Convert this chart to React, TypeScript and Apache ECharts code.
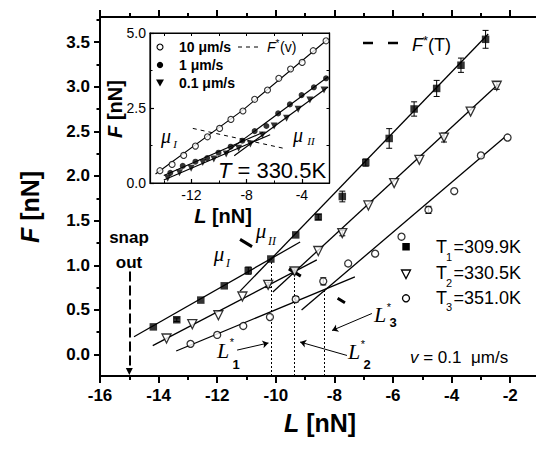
import React, { useEffect, useRef } from "react";
import * as echarts from "echarts";

const SANS = '"Liberation Sans", Arial, sans-serif';
const SERIF = '"Liberation Serif", "Times New Roman", serif';

// ---------- main panel (v = 0.1 um/s) : L [nN] vs F [nN] ----------
const t1L = [-14.18, -13.38, -12.56, -11.76, -10.94, -10.17, -9.32, -8.55, -7.73, -6.93, -6.13, -5.28, -4.51, -3.68, -2.84];
const t1F = [0.31, 0.39, 0.61, 0.77, 0.94, 1.07, 1.34, 1.54, 1.77, 2.15, 2.42, 2.75, 2.98, 3.24, 3.53];
const t1Err = [0, 0.02, 0, 0, 0.04, 0, 0, 0.03, 0.06, 0.04, 0.11, 0.08, 0.09, 0.08, 0.1];

const t2L = [-13.73, -12.85, -11.96, -11.14, -10.26, -9.36, -8.55, -7.73, -6.84, -5.96, -5.1, -4.26, -3.35, -2.46];
const t2F = [0.18, 0.34, 0.44, 0.65, 0.78, 0.93, 1.16, 1.36, 1.67, 1.92, 2.18, 2.43, 2.72, 3.01];
const t2Err = [0, 0, 0, 0, 0.03, 0.03, 0, 0.03, 0, 0, 0, 0.05, 0, 0.04];

const t3L = [-12.91, -12.0, -11.11, -10.2, -9.32, -8.38, -7.53, -6.61, -5.71, -4.79, -3.91, -3.0, -2.09];
const t3F = [0.12, 0.22, 0.32, 0.42, 0.62, 0.82, 1.02, 1.13, 1.32, 1.62, 1.83, 2.23, 2.43];
const t3Err = [0, 0, 0, 0, 0.03, 0.04, 0, 0, 0, 0.04, 0, 0, 0];

// linear fits (mu_I and mu_II) for each temperature
const mainFitSegments = [
  [[-14.84, 0.2], [-9.17, 1.26]],
  [[-11.22, 0.71], [-2.75, 3.59]],
  [[-14.2, 0.1], [-8.6, 1.06]],
  [[-10.1, 0.7], [-2.4, 3.03]],
  [[-13.4, 0.04], [-7.3, 0.87]],
  [[-9.12, 0.5], [-2.2, 2.43]],
];
// crossing points L*, F*
const lStar = [-10.17, -9.36, -8.34];
const fStar = [1.075, 0.925, 0.725];
// F*(T) dashed line
const fStarTLine = [[-11.22, 1.29], [-7.64, 0.58]];
// annotation arrows pointing to the L* lines
const lStarArrows = [
  [[-11.32, 0.05], [-10.25, 0.13]],
  [[-7.57, -0.01], [-9.17, 0.14]],
  [[-6.72, 0.46], [-8.08, 0.27]],
];
const snapOutL = -15.0;
const snapOutF = [0.93, -0.19];

const xMajor = [-16, -14, -12, -10, -8, -6, -4, -2];
const xMinor = [-15, -13, -11, -9, -7, -5, -3];
const yMajor = [0, 0.5, 1, 1.5, 2, 2.5, 3, 3.5];
const yMinor = [0.25, 0.75, 1.25, 1.75, 2.25, 2.75, 3.25, 3.75];
const yMin = -0.24;
const yMax = 3.78;

// ---------- inset (T = 330.5K) ----------
const v10L = [-14.28, -13.4, -12.56, -11.71, -10.84, -9.96, -9.14, -8.27, -7.42, -6.49, -5.67, -4.82, -3.98, -3.18, -2.25];
const v10F = [0.41, 0.62, 0.92, 1.23, 1.54, 1.82, 2.12, 2.4, 2.79, 3.1, 3.49, 3.8, 4.02, 4.41, 4.74];
const v1L = [-13.53, -12.63, -11.71, -10.86, -10.04, -9.16, -8.31, -7.42, -6.57, -5.72, -4.87, -4.02, -3.13, -2.25];
const v1F = [0.34, 0.57, 0.71, 0.83, 1.01, 1.21, 1.41, 1.73, 1.9, 2.32, 2.62, 2.93, 3.19, 3.49];
const v01L = [-13.72, -12.87, -12.02, -11.18, -10.38, -9.48, -8.58, -7.73, -6.86, -6.01, -5.11, -4.27, -3.42, -2.4];
const v01F = [0.16, 0.34, 0.49, 0.68, 0.8, 0.97, 1.16, 1.3, 1.6, 1.9, 2.16, 2.46, 2.77, 3.1];

const insetFit10 = [[-14.6, 0.3], [-8.3, 2.42], [-2.1, 4.8]];
const insetFitSegments = [
  [[-14.0, 0.25], [-6.8, 1.69]],
  [[-9.6, 0.99], [-2.1, 3.54]],
  [[-14.0, 0.1], [-6.3, 1.61]],
  [[-8.9, 0.91], [-2.1, 3.2]],
];
const fStarVLine = [[-11.9, 1.82], [-5.36, 1.16]];

const insetXLabels = [-12, -8, -4];
const insetXMinor = [-14, -10, -6];
const insetYLabels = [0, 2.5, 5];
const insetYMinor = [1.25, 3.75];

const pts = (L: number[], F: number[]) => L.map((x, i) => [x, F[i]]);

function errSeries(L: number[], F: number[], E: number[]) {
  return {
    type: "custom",
    xAxisIndex: 0,
    yAxisIndex: 0,
    z: 1,
    silent: true,
    data: L.map((x, i) => [x, F[i], E[i]]).filter((d) => d[2] > 0),
    encode: { x: 0, y: 1 },
    renderItem: (_p: any, api: any) => {
      const x = api.value(0);
      const y = api.value(1);
      const e = api.value(2);
      const a = api.coord([x, y + e]);
      const b = api.coord([x, y - e]);
      const w = 3;
      const st = { stroke: "#000", lineWidth: 1 };
      return {
        type: "group",
        children: [
          { type: "line", shape: { x1: a[0], y1: a[1], x2: b[0], y2: b[1] }, style: st },
          { type: "line", shape: { x1: a[0] - w, y1: a[1], x2: a[0] + w, y2: a[1] }, style: st },
          { type: "line", shape: { x1: b[0] - w, y1: b[1], x2: b[0] + w, y2: b[1] }, style: st },
        ],
      };
    },
  };
}

function linesSeries(segs: number[][][], xi: number, yi: number, lineStyle: any, extra: any = {}) {
  return {
    type: "lines",
    coordinateSystem: "cartesian2d",
    xAxisIndex: xi,
    yAxisIndex: yi,
    silent: true,
    z: 2,
    data: segs.map((s) => ({ coords: s })),
    lineStyle: { color: "#000", opacity: 1, ...lineStyle },
    ...extra,
  };
}

function txt(x: number, y: number, text: string, font: string, align = "center") {
  return {
    type: "text",
    x,
    y,
    silent: true,
    z: 10,
    style: { text, font, fill: "#000", align, verticalAlign: "middle" },
  };
}

function buildOption() {
  const tickLine = { color: "#000", width: 2 };
  const mainAxisLabel = { color: "#000", fontSize: 17, fontWeight: "bold", fontFamily: SANS };
  const insetLabel = { color: "#000", fontSize: 14, fontFamily: SANS };

  const xAxis = [
    {
      type: "value", gridIndex: 0, position: "bottom", min: -16, max: -1,
      axisLine: { onZero: false, lineStyle: tickLine },
      axisTick: { show: true, inside: false, length: 7, customValues: xMajor, lineStyle: tickLine },
      axisLabel: { ...mainAxisLabel, customValues: xMajor, margin: 11, formatter: (v: number) => String(v) },
      splitLine: { show: false },
    },
    {
      type: "value", gridIndex: 0, position: "bottom", min: -16, max: -1,
      axisLine: { show: false, onZero: false },
      axisTick: { show: true, inside: false, length: 4, customValues: xMinor, lineStyle: tickLine },
      axisLabel: { show: false },
      splitLine: { show: false },
    },
    {
      type: "value", gridIndex: 0, position: "top", min: -16, max: -1,
      axisLine: { onZero: false, lineStyle: tickLine },
      axisTick: { show: true, inside: false, length: 7, customValues: xMajor, lineStyle: tickLine },
      axisLabel: { show: false },
      splitLine: { show: false },
    },
    {
      type: "value", gridIndex: 0, position: "top", min: -16, max: -1,
      axisLine: { show: false, onZero: false },
      axisTick: { show: true, inside: false, length: 4, customValues: xMinor, lineStyle: tickLine },
      axisLabel: { show: false },
      splitLine: { show: false },
    },
    {
      type: "value", gridIndex: 1, position: "bottom", min: -15, max: -2,
      axisLine: { onZero: false, lineStyle: { color: "#000", width: 1.2 } },
      axisTick: { show: true, inside: true, length: 4, customValues: insetXLabels, lineStyle: { color: "#000", width: 1.2 } },
      axisLabel: { ...insetLabel, customValues: insetXLabels, margin: 5, formatter: (v: number) => String(v) },
      splitLine: { show: false },
    },
    {
      type: "value", gridIndex: 1, position: "bottom", min: -15, max: -2,
      axisLine: { show: false, onZero: false },
      axisTick: { show: true, inside: true, length: 2.5, customValues: insetXMinor, lineStyle: { color: "#000", width: 1 } },
      axisLabel: { show: false },
      splitLine: { show: false },
    },
    {
      type: "value", gridIndex: 1, position: "top", min: -15, max: -2,
      axisLine: { onZero: false, lineStyle: { color: "#000", width: 1.2 } },
      axisTick: { show: true, inside: true, length: 3, customValues: [...insetXLabels, ...insetXMinor], lineStyle: { color: "#000", width: 1 } },
      axisLabel: { show: false },
      splitLine: { show: false },
    },
  ];

  const yAxis = [
    {
      type: "value", gridIndex: 0, position: "left", min: yMin, max: yMax,
      axisLine: { onZero: false, lineStyle: tickLine },
      axisTick: { show: true, inside: false, length: 6, customValues: yMajor, lineStyle: tickLine },
      axisLabel: { ...mainAxisLabel, customValues: yMajor, margin: 10, formatter: (v: number) => v.toFixed(1) },
      splitLine: { show: false },
    },
    {
      type: "value", gridIndex: 0, position: "left", min: yMin, max: yMax,
      axisLine: { show: false, onZero: false },
      axisTick: { show: true, inside: false, length: 3.5, customValues: yMinor, lineStyle: tickLine },
      axisLabel: { show: false },
      splitLine: { show: false },
    },
    {
      type: "value", gridIndex: 1, position: "left", min: 0, max: 5,
      axisLine: { onZero: false, lineStyle: { color: "#000", width: 1.2 } },
      axisTick: { show: true, inside: true, length: 4, customValues: insetYLabels, lineStyle: { color: "#000", width: 1.2 } },
      axisLabel: { ...insetLabel, customValues: insetYLabels, margin: 4, formatter: (v: number) => v.toFixed(1) },
      splitLine: { show: false },
    },
    {
      type: "value", gridIndex: 1, position: "left", min: 0, max: 5,
      axisLine: { show: false, onZero: false },
      axisTick: { show: true, inside: true, length: 2.5, customValues: insetYMinor, lineStyle: { color: "#000", width: 1 } },
      axisLabel: { show: false },
      splitLine: { show: false },
    },
    {
      type: "value", gridIndex: 1, position: "right", min: 0, max: 5,
      axisLine: { onZero: false, lineStyle: { color: "#000", width: 1.2 } },
      axisTick: { show: true, inside: true, length: 3, customValues: [...insetYMinor, 2.5], lineStyle: { color: "#000", width: 1 } },
      axisLabel: { show: false },
      splitLine: { show: false },
    },
  ];

  const openStyle = { color: "#fff", borderColor: "#000", borderWidth: 1.3 };

  const series: any[] = [
    linesSeries(mainFitSegments as any, 0, 0, { width: 1.3, type: "solid" }),
    linesSeries([fStarTLine] as any, 0, 0, { width: 3, type: [14, 43] }),
    linesSeries(lStar.map((l, i) => [[l, yMin], [l, fStar[i]]]) as any, 0, 0, { width: 1, type: [2, 2] }),
    linesSeries(lStarArrows as any, 0, 0, { width: 1 }, { symbol: ["none", "arrow"], symbolSize: 6 }),
    linesSeries([[[snapOutL, snapOutF[0]], [snapOutL, snapOutF[1]]]] as any, 0, 0, { width: 2, type: [10, 4] }, { symbol: ["none", "triangle"], symbolSize: [6, 7] }),
    errSeries(t1L, t1F, t1Err),
    errSeries(t2L, t2F, t2Err),
    errSeries(t3L, t3F, t3Err),
    {
      type: "scatter", xAxisIndex: 0, yAxisIndex: 0, z: 4, silent: true,
      symbol: "rect", symbolSize: 7.5, itemStyle: { color: "#000" }, data: pts(t1L, t1F),
    },
    {
      type: "scatter", xAxisIndex: 0, yAxisIndex: 0, z: 4, silent: true,
      symbol: "triangle", symbolRotate: 180, symbolSize: 9, itemStyle: openStyle, data: pts(t2L, t2F),
    },
    {
      type: "scatter", xAxisIndex: 0, yAxisIndex: 0, z: 4, silent: true,
      symbol: "circle", symbolSize: 7, itemStyle: openStyle, data: pts(t3L, t3F),
    },
    {
      type: "line", xAxisIndex: 4, yAxisIndex: 2, z: 5, silent: true, showSymbol: false, symbol: "none",
      lineStyle: { color: "#000", width: 1.1 }, data: insetFit10,
    },
    { ...linesSeries(insetFitSegments as any, 4, 2, { width: 1.1 }), z: 5 },
    { ...linesSeries([fStarVLine] as any, 4, 2, { width: 1, type: [4, 4] }), z: 5 },
    {
      type: "scatter", xAxisIndex: 4, yAxisIndex: 2, z: 6, silent: true,
      symbol: "circle", symbolSize: 6, itemStyle: { color: "#fff", borderColor: "#000", borderWidth: 1.1 }, data: pts(v10L, v10F),
    },
    {
      type: "scatter", xAxisIndex: 4, yAxisIndex: 2, z: 6, silent: true,
      symbol: "circle", symbolSize: 6, itemStyle: { color: "#000" }, data: pts(v1L, v1F),
    },
    {
      type: "scatter", xAxisIndex: 4, yAxisIndex: 2, z: 6, silent: true,
      symbol: "triangle", symbolRotate: 180, symbolSize: 7, itemStyle: { color: "#000" }, data: pts(v01L, v01F),
    },
  ];

  const b25 = `bold 25px ${SANS}`;
  const b20 = `bold 20px ${SANS}`;
  const graphic: any[] = [
    {
      type: "text", x: 30, y: 207, rotation: Math.PI / 2, silent: true, z: 10,
      style: {
        text: "{i|F} [nN]", font: b25, fill: "#000", align: "center", verticalAlign: "middle",
        rich: { i: { fontStyle: "italic", fontWeight: "bold", fontSize: 25, fontFamily: SANS, fill: "#000" } },
      },
    },
    {
      type: "text", x: 320, y: 423, silent: true, z: 10,
      style: {
        text: "{i|L} [nN]", font: b25, fill: "#000", align: "center", verticalAlign: "middle",
        rich: { i: { fontStyle: "italic", fontWeight: "bold", fontSize: 25, fontFamily: SANS, fill: "#000" } },
      },
    },
    { type: "line", silent: true, z: 10, shape: { x1: 363, y1: 43, x2: 373, y2: 43 }, style: { stroke: "#000", lineWidth: 2.5 } },
    { type: "line", silent: true, z: 10, shape: { x1: 388, y1: 43, x2: 398, y2: 43 }, style: { stroke: "#000", lineWidth: 2.5 } },
    txt(412, 45, "F", `italic 18px ${SANS}`, "left"),
    txt(423, 40, "*", `13px ${SANS}`, "left"),
    txt(428, 45, "(T)", `18px ${SANS}`, "left"),
    { type: "rect", silent: true, z: 10, shape: { x: 402.3, y: 243, width: 7.5, height: 7.5 }, style: { fill: "#000" } },
    { type: "polygon", silent: true, z: 10, shape: { points: [[401.5, 270], [410.5, 270], [406, 278.5]] }, style: { fill: "#fff", stroke: "#000", lineWidth: 1.3 } },
    { type: "circle", silent: true, z: 10, shape: { cx: 406, cy: 298.3, r: 3.5 }, style: { fill: "#fff", stroke: "#000", lineWidth: 1.3 } },
    txt(436, 246.5, "T", `18px ${SANS}`, "left"),
    txt(446, 256.5, "1", `11px ${SANS}`, "left"),
    txt(453.5, 246.5, "=309.9K", `18px ${SANS}`, "left"),
    txt(436, 273, "T", `18px ${SANS}`, "left"),
    txt(446, 283, "2", `11px ${SANS}`, "left"),
    txt(453.5, 273, "=330.5K", `18px ${SANS}`, "left"),
    txt(436, 297.5, "T", `18px ${SANS}`, "left"),
    txt(446, 307, "3", `11px ${SANS}`, "left"),
    txt(453.5, 297.5, "=351.0K", `18px ${SANS}`, "left"),
    {
      type: "text", x: 410, y: 357, silent: true, z: 10,
      style: {
        text: "{i|v} = 0.1  μm/s", font: `17px ${SANS}`, fill: "#000", align: "left", verticalAlign: "middle",
        rich: { i: { fontStyle: "italic", fontSize: 17, fontFamily: SANS, fill: "#000" } },
      },
    },
    txt(129, 237, "snap", `bold 17px ${SANS}`),
    txt(129, 262, "out", `bold 17px ${SANS}`),
    txt(219, 254, "μ", `italic 21px ${SERIF}`),
    txt(228, 263, "I", `italic 12px ${SERIF}`),
    txt(261, 231, "μ", `italic 21px ${SERIF}`),
    txt(272, 241, "II", `italic 12px ${SERIF}`),
    txt(223, 350, "L", `italic 22px ${SERIF}`),
    txt(232, 342, "*", `11px ${SANS}`),
    txt(236, 364, "1", `bold 13px ${SANS}`),
    txt(354, 351, "L", `italic 22px ${SERIF}`),
    txt(363, 344, "*", `11px ${SANS}`),
    txt(367, 364, "2", `bold 13px ${SANS}`),
    txt(380, 314, "L", `italic 22px ${SERIF}`),
    txt(389, 307, "*", `11px ${SANS}`),
    txt(393, 322, "3", `bold 13px ${SANS}`),
    {
      type: "text", x: 115, y: 109, rotation: Math.PI / 2, silent: true, z: 10,
      style: {
        text: "{i|F} [nN]", font: b20, fill: "#000", align: "center", verticalAlign: "middle",
        rich: { i: { fontStyle: "italic", fontWeight: "bold", fontSize: 20, fontFamily: SANS, fill: "#000" } },
      },
    },
    {
      type: "text", x: 223, y: 216, silent: true, z: 10,
      style: {
        text: "{i|L} [nN]", font: b20, fill: "#000", align: "center", verticalAlign: "middle",
        rich: { i: { fontStyle: "italic", fontWeight: "bold", fontSize: 20, fontFamily: SANS, fill: "#000" } },
      },
    },
    { type: "circle", silent: true, z: 10, shape: { cx: 160, cy: 47, r: 3 }, style: { fill: "#fff", stroke: "#000", lineWidth: 1.1 } },
    { type: "circle", silent: true, z: 10, shape: { cx: 160, cy: 65, r: 3.2 }, style: { fill: "#000" } },
    { type: "polygon", silent: true, z: 10, shape: { points: [[156, 79.5], [164, 79.5], [160, 86.5]] }, style: { fill: "#000" } },
    txt(179, 47, "10 μm/s", `bold 14px ${SANS}`, "left"),
    txt(179, 65, "1 μm/s", `bold 14px ${SANS}`, "left"),
    txt(179, 83, "0.1 μm/s", `bold 14px ${SANS}`, "left"),
    { type: "line", silent: true, z: 10, shape: { x1: 238, y1: 47, x2: 262, y2: 47 }, style: { stroke: "#000", lineWidth: 1, lineDash: [4, 4] } },
    txt(267, 47, "F", `italic 14px ${SANS}`, "left"),
    txt(275.5, 43, "*", `10px ${SANS}`, "left"),
    txt(280, 47, "(v)", `14px ${SANS}`, "left"),
    {
      type: "text", x: 272, y: 170, silent: true, z: 10,
      style: {
        text: "{i|T} = 330.5K", font: `22px ${SANS}`, fill: "#000", align: "center", verticalAlign: "middle",
        rich: { i: { fontStyle: "italic", fontSize: 22, fontFamily: SANS, fill: "#000" } },
      },
    },
    txt(166, 136, "μ", `italic 20px ${SERIF}`),
    txt(175, 144, "I", `italic 11px ${SERIF}`),
    txt(298, 135, "μ", `italic 20px ${SERIF}`),
    txt(311, 141, "II", `italic 11px ${SERIF}`),
  ];

  return {
    animation: false,
    backgroundColor: "#fff",
    grid: [
      { left: 100, top: 17, width: 439.5, height: 359, containLabel: false, outerBoundsMode: "none", show: false },
      {
        left: 150, top: 33, width: 179.5, height: 150, containLabel: false, outerBoundsMode: "none",
        show: true, borderColor: "#000", borderWidth: 1.2, backgroundColor: "#fff",
      },
    ],
    xAxis,
    yAxis,
    series,
    graphic,
  };
}

export default function App() {
  const ref = useRef<HTMLDivElement>(null);
  useEffect(() => {
    if (!ref.current) return;
    const chart = echarts.init(ref.current, null, { renderer: "svg" });
    chart.setOption(buildOption() as any);
    return () => chart.dispose();
  }, []);
  return (
    <div
      ref={ref}
      style={{ position: "fixed", left: 0, top: 0, width: 545, height: 450, background: "#fff" }}
    />
  );
}
